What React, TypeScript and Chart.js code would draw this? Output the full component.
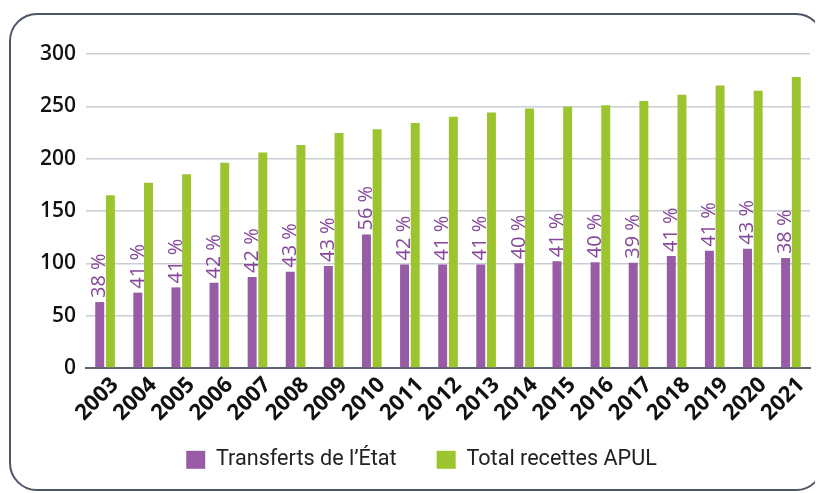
import React, { useEffect, useRef } from "react";
import { Chart, registerables } from "chart.js";

Chart.register(...registerables);

const years = ["2003","2004","2005","2006","2007","2008","2009","2010","2011","2012","2013","2014","2015","2016","2017","2018","2019","2020","2021"];
const transferts = [63, 72, 77, 81.5, 87, 92, 97.5, 127.5, 99, 99, 99, 100, 102, 101, 100.5, 107, 112, 114, 105];
const totalApul = [165, 177, 185, 196, 206, 213, 224.5, 228, 234, 240, 244, 248, 249.5, 251, 255, 261, 270, 265, 278];
const shares = ["38 %","41 %","41 %","42 %","42 %","43 %","43 %","56 %","42 %","41 %","41 %","40 %","41 %","40 %","39 %","41 %","41 %","43 %","38 %"];
const seriesNames = ["Transferts de l\u2019\u00c9tat", "Total recettes APUL"];

const PURPLE = "#985ba6";
const GREEN = "#9cc42e";
const LABEL_PURPLE = "#86479a";

const shareLabels = {
  id: "shareLabels",
  afterLayout(chart: any) {
    const lg = chart.legend;
    if (lg) {
      lg.left += 11;
      lg.right += 11;
      lg.top -= 18;
      lg.bottom -= 18;
    }
  },
  afterDatasetsDraw(chart: any) {
    const ctx = chart.ctx;
    const meta = chart.getDatasetMeta(0);
    ctx.save();
    ctx.fillStyle = LABEL_PURPLE;
    ctx.font = "400 20px 'Open Sans'";
    ctx.textAlign = "left";
    ctx.textBaseline = "middle";
    meta.data.forEach((bar: any, i: number) => {
      ctx.save();
      ctx.translate(bar.x, bar.y - 4);
      ctx.rotate(-Math.PI / 2);
      ctx.fillText(shares[i], 0, 0);
      ctx.restore();
    });
    ctx.restore();
  },
};

export default function App() {
  const ref = useRef<HTMLCanvasElement | null>(null);
  useEffect(() => {
    if (!ref.current) return;
    const chart = new Chart(ref.current, {
      type: "bar",
      data: {
        labels: years,
        datasets: [
          { label: seriesNames[0], data: transferts, backgroundColor: PURPLE, categoryPercentage: 0.56, barPercentage: 0.84 },
          { label: seriesNames[1], data: totalApul, backgroundColor: GREEN, categoryPercentage: 0.56, barPercentage: 0.84 },
        ],
      },
      options: {
        animation: false,
        responsive: false,
        maintainAspectRatio: false,
        layout: { padding: { top: 39, right: 12, bottom: 0, left: 0 } },
        plugins: {
          tooltip: { enabled: false },
          legend: {
            position: "bottom",
            maxHeight: 62,
            labels: {
              boxWidth: 19,
              boxHeight: 18,
              padding: 40,
              color: "#222",
              font: { family: "Roboto", size: 21.6, weight: "400" },
            },
          },
        },
        scales: {
          x: {
            grid: { display: false, drawTicks: false },
            border: { color: "#5b6270", width: 2 },
            ticks: {
              color: "#111",
              font: { family: "'Open Sans'", size: 22, weight: "700" },
              maxRotation: 45,
              minRotation: 45,
              padding: 4,
              labelOffset: 10,
              autoSkip: false,
            },
            afterFit(scale: any) {
              scale.height = 59;
            },
          },
          y: {
            min: 0,
            max: 300,
            border: { display: false },
            grid: { color: "#c9cdd6", lineWidth: 1.5, drawTicks: false },
            ticks: {
              stepSize: 50,
              color: "#111",
              padding: 10,
              font: { family: "'Open Sans'", size: 21, weight: "600" },
            },
            afterFit(scale: any) {
              scale.width = 75;
            },
          },
        },
      },
      plugins: [shareLabels],
    });
    return () => chart.destroy();
  }, []);
  return (
    <div
      style={{
        position: "relative",
        width: 815,
        height: 478,
        marginTop: 5,
        marginLeft: 1,
        border: "2px solid #4d5566",
        borderRadius: 28,
        boxSizing: "border-box",
        overflow: "hidden",
      }}
    >
      <canvas ref={ref} width={811} height={474} style={{ display: "block" }} />
    </div>
  );
}
